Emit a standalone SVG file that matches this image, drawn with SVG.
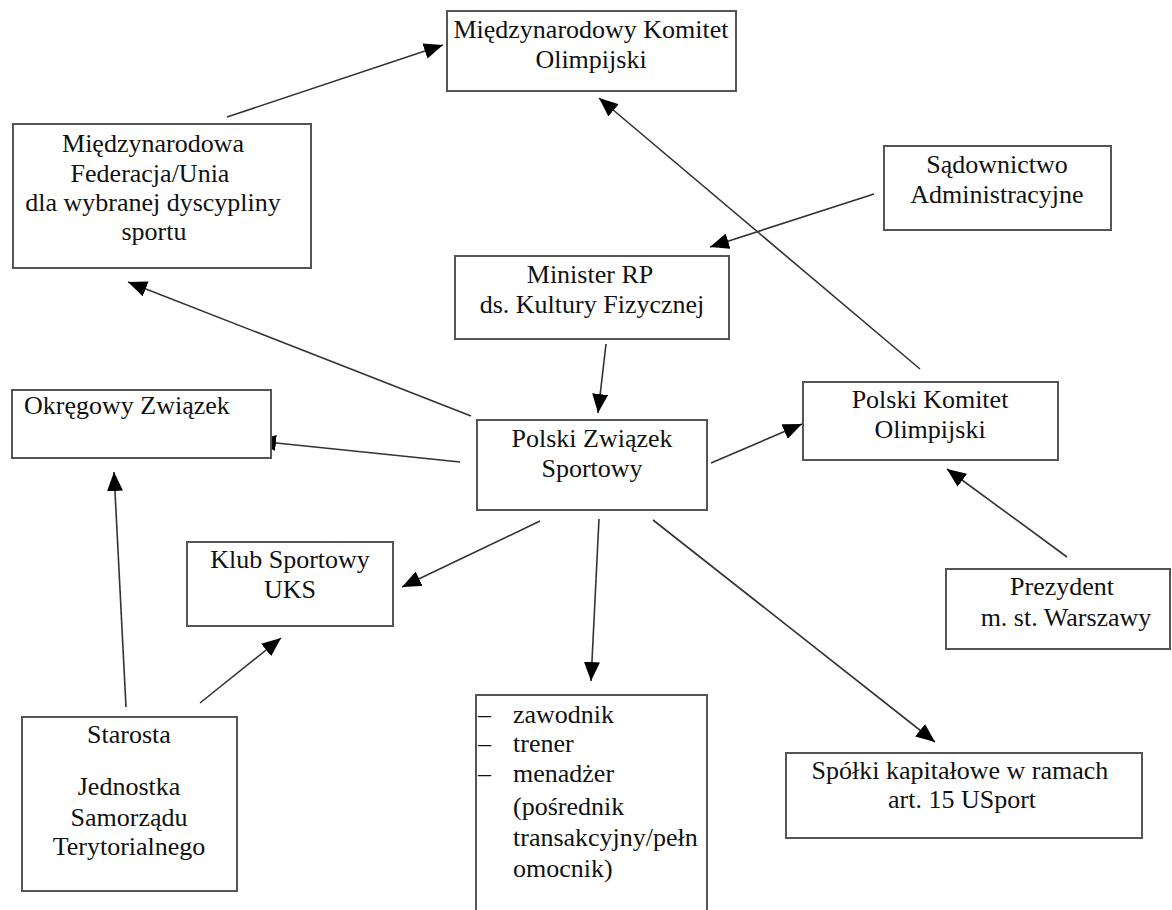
<svg xmlns="http://www.w3.org/2000/svg" width="1172" height="910" viewBox="0 0 1172 910">
<style>
.box{fill:#fff;stroke:#555;stroke-width:2}
.t{font-family:"Liberation Serif","Times New Roman",serif;font-size:26px;fill:#111;text-anchor:middle}
.l{font-family:"Liberation Serif","Times New Roman",serif;font-size:26px;fill:#111}
.c{fill:none;stroke:#333;stroke-width:1.6}
</style>
<defs>
<marker id="ah" markerUnits="userSpaceOnUse" markerWidth="20" markerHeight="16" viewBox="0 0 20 16" refX="19" refY="8" orient="auto">
<path d="M0,0 L19,8 L0,16 Z" fill="#000"/>
</marker>
</defs>
<rect width="1172" height="910" fill="#fff"/>
<g id="connectors">
<line class="c" x1="227" y1="117" x2="443" y2="45" marker-end="url(#ah)"/>
<line class="c" x1="920" y1="369" x2="599" y2="98" marker-end="url(#ah)"/>
<line class="c" x1="874" y1="194" x2="710" y2="247" marker-end="url(#ah)"/>
<line class="c" x1="606" y1="344" x2="598" y2="413" marker-end="url(#ah)"/>
<line class="c" x1="711" y1="463" x2="802" y2="424" marker-end="url(#ah)"/>
<line class="c" x1="471" y1="416" x2="128" y2="282" marker-end="url(#ah)"/>
<line class="c" x1="460" y1="462" x2="257" y2="441" marker-end="url(#ah)"/>
<line class="c" x1="540" y1="521" x2="402" y2="587" marker-end="url(#ah)"/>
<line class="c" x1="599" y1="519" x2="591" y2="681" marker-end="url(#ah)"/>
<line class="c" x1="653" y1="520" x2="935" y2="742" marker-end="url(#ah)"/>
<line class="c" x1="126" y1="707" x2="114" y2="472" marker-end="url(#ah)"/>
<line class="c" x1="200" y1="703" x2="281" y2="638" marker-end="url(#ah)"/>
<line class="c" x1="1067" y1="557" x2="947" y2="469" marker-end="url(#ah)"/>
</g>
<g id="mko">
<rect class="box" x="447" y="11" width="289" height="80"/>
<text class="t" x="591" y="38">Międzynarodowy Komitet</text>
<text class="t" x="591" y="68">Olimpijski</text>
</g>
<g id="federacja">
<rect class="box" x="13" y="124" width="298" height="144"/>
<text class="t" x="153" y="152">Międzynarodowa</text>
<text class="t" x="150" y="182">Federacja/Unia</text>
<text class="t" x="153" y="211">dla wybranej dyscypliny</text>
<text class="t" x="154" y="240">sportu</text>
</g>
<g id="sadownictwo">
<rect class="box" x="884" y="146" width="227" height="84"/>
<text class="t" x="997" y="173">Sądownictwo</text>
<text class="t" x="997" y="203">Administracyjne</text>
</g>
<g id="minister">
<rect class="box" x="455" y="256" width="274" height="83"/>
<text class="t" x="590" y="283">Minister RP</text>
<text class="t" x="592" y="313">ds. Kultury Fizycznej</text>
</g>
<g id="pko">
<rect class="box" x="803" y="382" width="255" height="78"/>
<text class="t" x="930" y="408">Polski Komitet</text>
<text class="t" x="930" y="438">Olimpijski</text>
</g>
<g id="pzs">
<rect class="box" x="477" y="420" width="230" height="90"/>
<text class="t" x="592" y="447">Polski Związek</text>
<text class="t" x="592" y="477">Sportowy</text>
</g>
<g id="okregowy">
<rect class="box" x="12" y="390" width="259" height="68"/>
<text class="l" x="24" y="414">Okręgowy Związek</text>
</g>
<g id="klub">
<rect class="box" x="187" y="542" width="206" height="84"/>
<text class="t" x="290" y="568">Klub Sportowy</text>
<text class="t" x="290" y="598">UKS</text>
</g>
<g id="starosta">
<rect class="box" x="22" y="717" width="215" height="174"/>
<text class="t" x="129" y="743">Starosta</text>
<text class="t" x="129" y="795">Jednostka</text>
<text class="t" x="129" y="826">Samorządu</text>
<text class="t" x="129" y="855">Terytorialnego</text>
</g>
<g id="lista">
<rect class="box" x="476" y="695" width="231" height="240"/>
<text class="l" x="478" y="723">–</text>
<text class="l" x="478" y="752">–</text>
<text class="l" x="478" y="782">–</text>
<text class="l" x="513" y="723">zawodnik</text>
<text class="l" x="513" y="752">trener</text>
<text class="l" x="513" y="782">menadżer</text>
<text class="l" x="513" y="815">(pośrednik</text>
<text class="l" x="513" y="846">transakcyjny/pełn</text>
<text class="l" x="513" y="877">omocnik)</text>
</g>
<g id="prezydent">
<rect class="box" x="946" y="569" width="224" height="80"/>
<text class="t" x="1062" y="595">Prezydent</text>
<text class="t" x="1066" y="626">m. st. Warszawy</text>
</g>
<g id="spolki">
<rect class="box" x="786" y="753" width="356" height="85"/>
<text class="t" x="960" y="779">Spółki kapitałowe w ramach</text>
<text class="t" x="962" y="808">art. 15 USport</text>
</g>
</svg>
